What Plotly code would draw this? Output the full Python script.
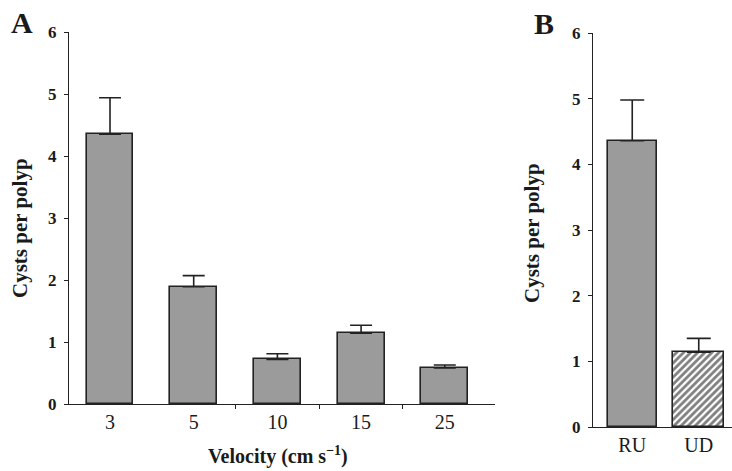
import plotly.graph_objects as go

# Panel A data
velocity_labels = ["3", "5", "10", "15", "25"]
cysts_a = [4.35, 1.89, 0.72, 1.14, 0.58]
err_a = [0.59, 0.18, 0.09, 0.13, 0.05]

# Panel B data
treat_labels = ["RU", "UD"]
cysts_b = [4.36, 1.14]
err_b = [0.62, 0.21]

W, H = 732, 471
FONT = "Liberation Serif"
BAR_GRAY = "#9b9b9b"
EDGE = "#222222"

fig = go.Figure()

xa = list(range(len(velocity_labels)))
fig.add_trace(go.Bar(
    x=xa, y=cysts_a, width=0.56,
    marker=dict(color=BAR_GRAY, line=dict(color=EDGE, width=1.6)),
    error_y=dict(type="data", symmetric=False, array=err_a,
                 arrayminus=[0] * len(err_a), color=EDGE, thickness=1.6, width=11),
    xaxis="x", yaxis="y", showlegend=False,
))

xb = list(range(len(treat_labels)))
fig.add_trace(go.Bar(
    x=[xb[0]], y=[cysts_b[0]], width=0.74,
    marker=dict(color=BAR_GRAY, line=dict(color=EDGE, width=1.6)),
    error_y=dict(type="data", symmetric=False, array=[err_b[0]],
                 arrayminus=[0], color=EDGE, thickness=1.6, width=12),
    xaxis="x2", yaxis="y2", showlegend=False,
))
fig.add_trace(go.Bar(
    x=[xb[1]], y=[cysts_b[1]], width=0.76,
    marker=dict(color="white", line=dict(color=EDGE, width=1.6),
                pattern=dict(shape="/", fgcolor="#000000", bgcolor="white",
                             size=5, solidity=0.55)),
    error_y=dict(type="data", symmetric=False, array=[err_b[1]],
                 arrayminus=[0], color=EDGE, thickness=1.6, width=12),
    xaxis="x2", yaxis="y2", showlegend=False,
))

# Invisible trace to activate overlay axis for the boundary ticks
fig.add_trace(go.Scatter(x=[None], y=[None], xaxis="x3", yaxis="y",
                         showlegend=False, hoverinfo="skip"))

axis_common = dict(showgrid=False, zeroline=False, showline=True,
                   linecolor=EDGE, linewidth=1.4, automargin=False)

ydom_a = [(H - 404) / H, (H - 32) / H]
ydom_b = [(H - 427) / H, (H - 33) / H]

XT = dict(size=20, family=FONT, color="#1a1a1a")
YT = dict(size=17, family=FONT, weight="bold", color="#1a1a1a")

fig.update_layout(
    width=W, height=H,
    margin=dict(l=0, r=0, t=0, b=0, pad=0, autoexpand=False),
    paper_bgcolor="white", plot_bgcolor="white",
    font=dict(family=FONT, color="#1a1a1a"),
    bargap=0,
    xaxis=dict(domain=[69 / W, 495 / W], range=[-0.49, 4.6],
               tickvals=xa, ticktext=velocity_labels, ticks="",
               ticklabelstandoff=0, tickfont=XT, anchor="y", **axis_common),
    xaxis3=dict(domain=[69 / W, 495 / W], range=[-0.49, 4.6],
                overlaying="x", anchor="y", tickvals=[1.5, 2.5, 3.5],
                showticklabels=False, ticks="outside", ticklen=4, tickwidth=1.4,
                tickcolor=EDGE, showgrid=False, zeroline=False, showline=False,
                automargin=False),
    yaxis=dict(domain=ydom_a, range=[0, 6], tickvals=[0, 1, 2, 3, 4, 5, 6],
               ticks="outside", ticklen=4, tickwidth=1.4, tickcolor=EDGE,
               ticklabelstandoff=4, tickfont=YT, anchor="x", **axis_common),
    xaxis2=dict(domain=[593 / W, 1.0], range=[-0.59, 1.5],
                tickvals=xb, ticktext=treat_labels, ticks="",
                ticklabelstandoff=0, tickfont=XT, anchor="y2", **axis_common),
    yaxis2=dict(domain=ydom_b, range=[0, 6], tickvals=[0, 1, 2, 3, 4, 5, 6],
                ticks="outside", ticklen=4, tickwidth=1.4, tickcolor=EDGE,
                ticklabelstandoff=4, tickfont=YT, anchor="x2", **axis_common),
)

def note(text, x, y, size, angle=0):
    fig.add_annotation(text=text, x=x / W, y=(H - y) / H, xref="paper", yref="paper",
                       xanchor="center", yanchor="middle", showarrow=False,
                       textangle=angle, font=dict(size=size, family=FONT, color="#1a1a1a"))

note("<b>A</b>", 22, 23, 30)
note("<b>B</b>", 544, 24, 30)
note("<b>Cysts per polyp</b>", 20, 228, 21, -90)
note("<b>Cysts per polyp</b>", 532, 233, 21, -90)
note("<b>Velocity (cm s<sup>−1</sup>)</b>", 278, 455, 20)

fig.write_html("out.html")
